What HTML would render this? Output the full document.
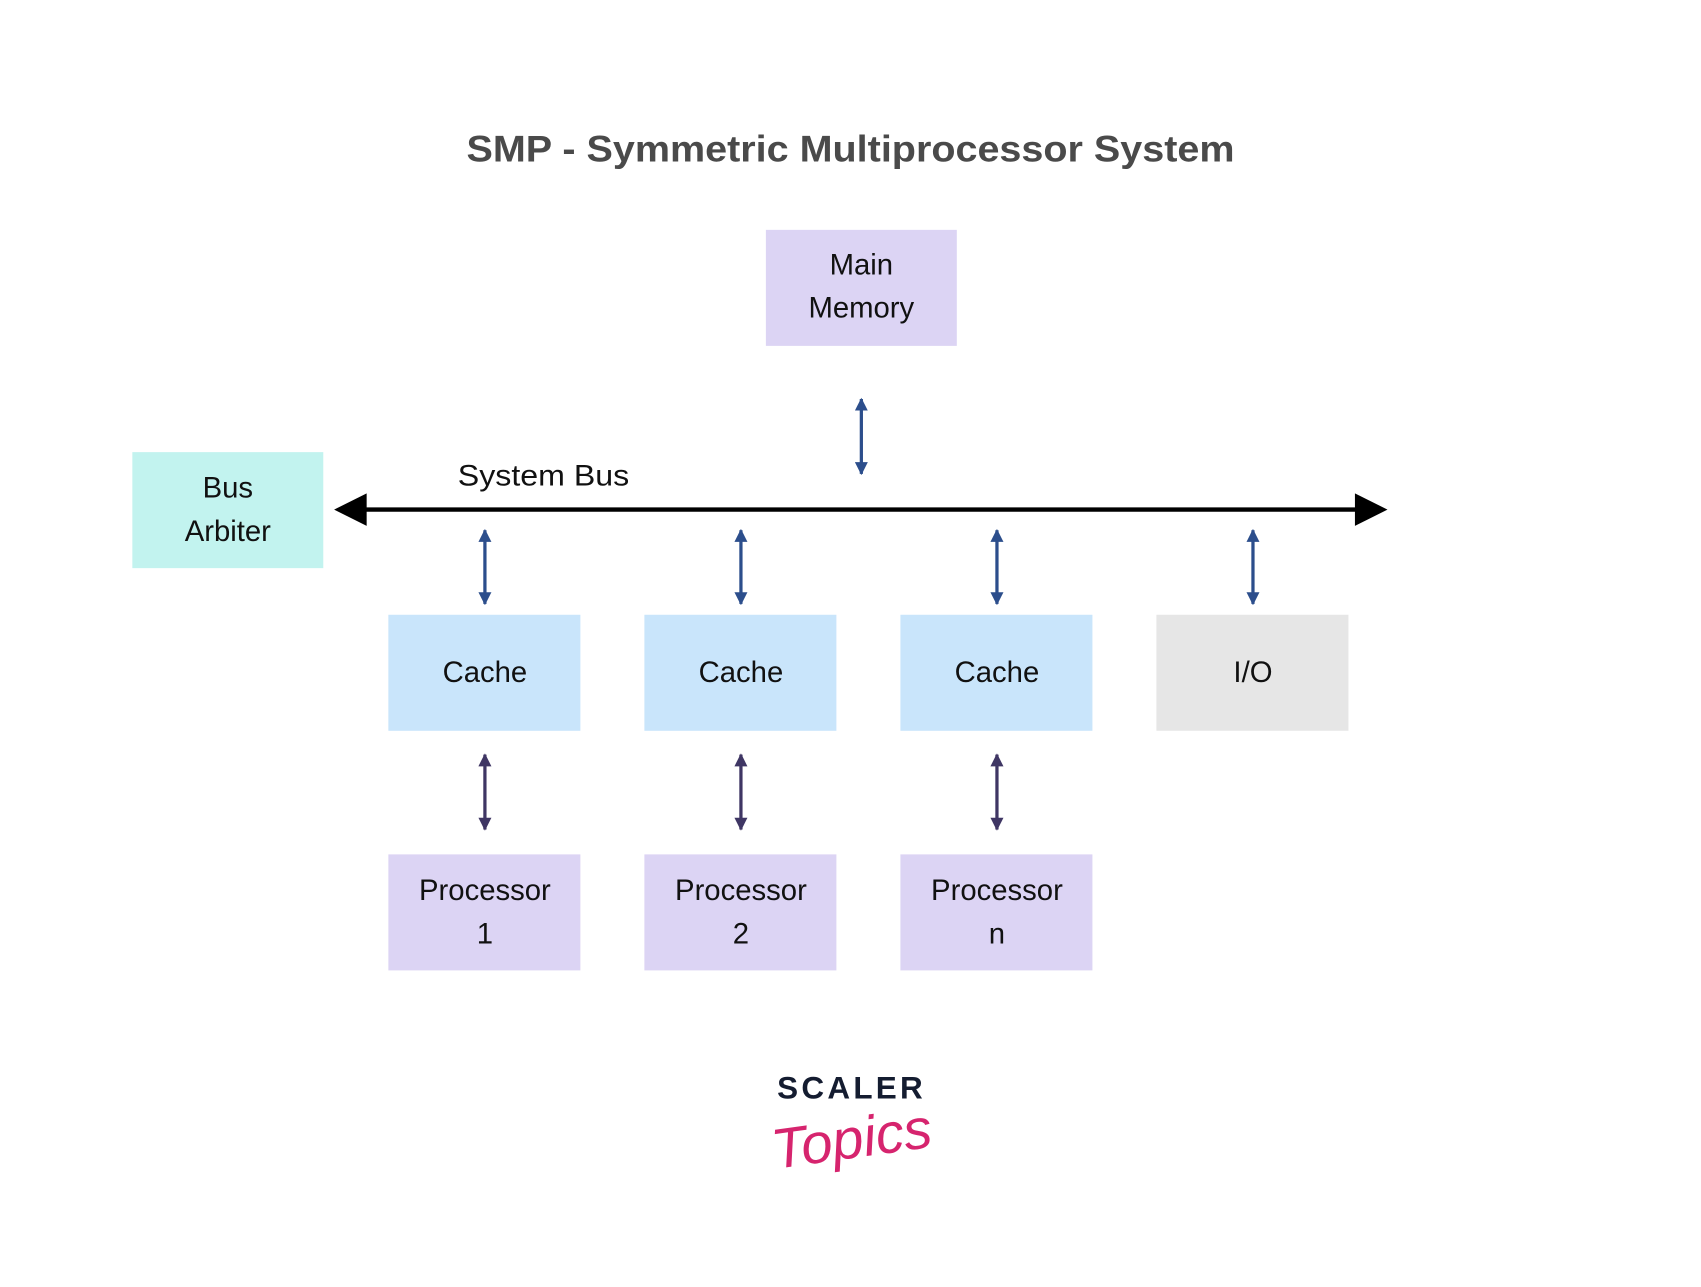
<!DOCTYPE html>
<html><head><meta charset="utf-8"><style>
html,body{margin:0;padding:0;background:#fff;}
svg{display:block;}
text{font-family:"Liberation Sans",sans-serif;}
</style></head><body>
<svg width="1701" height="1287" viewBox="0 0 1568 1187" preserveAspectRatio="none" xmlns="http://www.w3.org/2000/svg">
<defs>
<marker id="ab" viewBox="0 0 10 10" refX="9" refY="5" markerWidth="4" markerHeight="4" orient="auto-start-reverse"><path d="M0,0 L10,5 L0,10 z" fill="#2c4e8c"/></marker>
<marker id="ap" viewBox="0 0 10 10" refX="9" refY="5" markerWidth="4" markerHeight="4" orient="auto-start-reverse"><path d="M0,0 L10,5 L0,10 z" fill="#3f3664"/></marker>
</defs>
<rect width="1568" height="1187" fill="#fff"/>
<text x="784" y="149" text-anchor="middle" font-size="34" font-weight="bold" fill="#4a4a4a" textLength="708" lengthAdjust="spacingAndGlyphs">SMP - Symmetric Multiprocessor System</text>

<rect x="706" y="212" width="176" height="107" fill="#dcd4f4"/>
<text x="794" y="253" text-anchor="middle" font-size="27" fill="#111">Main</text>
<text x="794" y="293" text-anchor="middle" font-size="27" fill="#111">Memory</text>

<rect x="122" y="417" width="176" height="107" fill="#c2f3ef"/>
<text x="210" y="459" text-anchor="middle" font-size="27" fill="#111">Bus</text>
<text x="210" y="499" text-anchor="middle" font-size="27" fill="#111">Arbiter</text>

<text x="422" y="448" font-size="27" fill="#111" textLength="158" lengthAdjust="spacingAndGlyphs">System Bus</text>
<line x1="335" y1="470" x2="1252" y2="470" stroke="#000" stroke-width="4"/>
<path d="M308,470 L338,455 L338,485 z" fill="#000"/>
<path d="M1279,470 L1249,455 L1249,485 z" fill="#000"/>

<g stroke="#2c4e8c" stroke-width="3" fill="none">
<line x1="794" y1="368" x2="794" y2="437" marker-start="url(#ab)" marker-end="url(#ab)"/>
<line x1="447" y1="489" x2="447" y2="557" marker-start="url(#ab)" marker-end="url(#ab)"/>
<line x1="683" y1="489" x2="683" y2="557" marker-start="url(#ab)" marker-end="url(#ab)"/>
<line x1="919" y1="489" x2="919" y2="557" marker-start="url(#ab)" marker-end="url(#ab)"/>
<line x1="1155" y1="489" x2="1155" y2="557" marker-start="url(#ab)" marker-end="url(#ab)"/>
</g>
<g stroke="#3f3664" stroke-width="3" fill="none">
<line x1="447" y1="696" x2="447" y2="765" marker-start="url(#ap)" marker-end="url(#ap)"/>
<line x1="683" y1="696" x2="683" y2="765" marker-start="url(#ap)" marker-end="url(#ap)"/>
<line x1="919" y1="696" x2="919" y2="765" marker-start="url(#ap)" marker-end="url(#ap)"/>
</g>

<rect x="358" y="567" width="177" height="107" fill="#c9e5fb"/>
<rect x="594" y="567" width="177" height="107" fill="#c9e5fb"/>
<rect x="830" y="567" width="177" height="107" fill="#c9e5fb"/>
<rect x="1066" y="567" width="177" height="107" fill="#e6e6e6"/>
<g font-size="27" fill="#111" text-anchor="middle">
<text x="447" y="629">Cache</text>
<text x="683" y="629">Cache</text>
<text x="919" y="629">Cache</text>
<text x="1155" y="629">I/O</text>
</g>

<rect x="358" y="788" width="177" height="107" fill="#dcd4f4"/>
<rect x="594" y="788" width="177" height="107" fill="#dcd4f4"/>
<rect x="830" y="788" width="177" height="107" fill="#dcd4f4"/>
<g font-size="27" fill="#111" text-anchor="middle">
<text x="447" y="830">Processor</text><text x="447" y="870">1</text>
<text x="683" y="830">Processor</text><text x="683" y="870">2</text>
<text x="919" y="830">Processor</text><text x="919" y="870">n</text>
</g>

<text x="785" y="1013" text-anchor="middle" font-size="29" font-weight="bold" letter-spacing="3" fill="#141c30">SCALER</text>
<text x="785" y="1068" text-anchor="middle" font-size="52" font-style="italic" font-family="Liberation Serif,serif" fill="#d6246e" transform="translate(785 1050) rotate(-8) translate(-785 -1050)">Topics</text>
</svg>
</body></html>
